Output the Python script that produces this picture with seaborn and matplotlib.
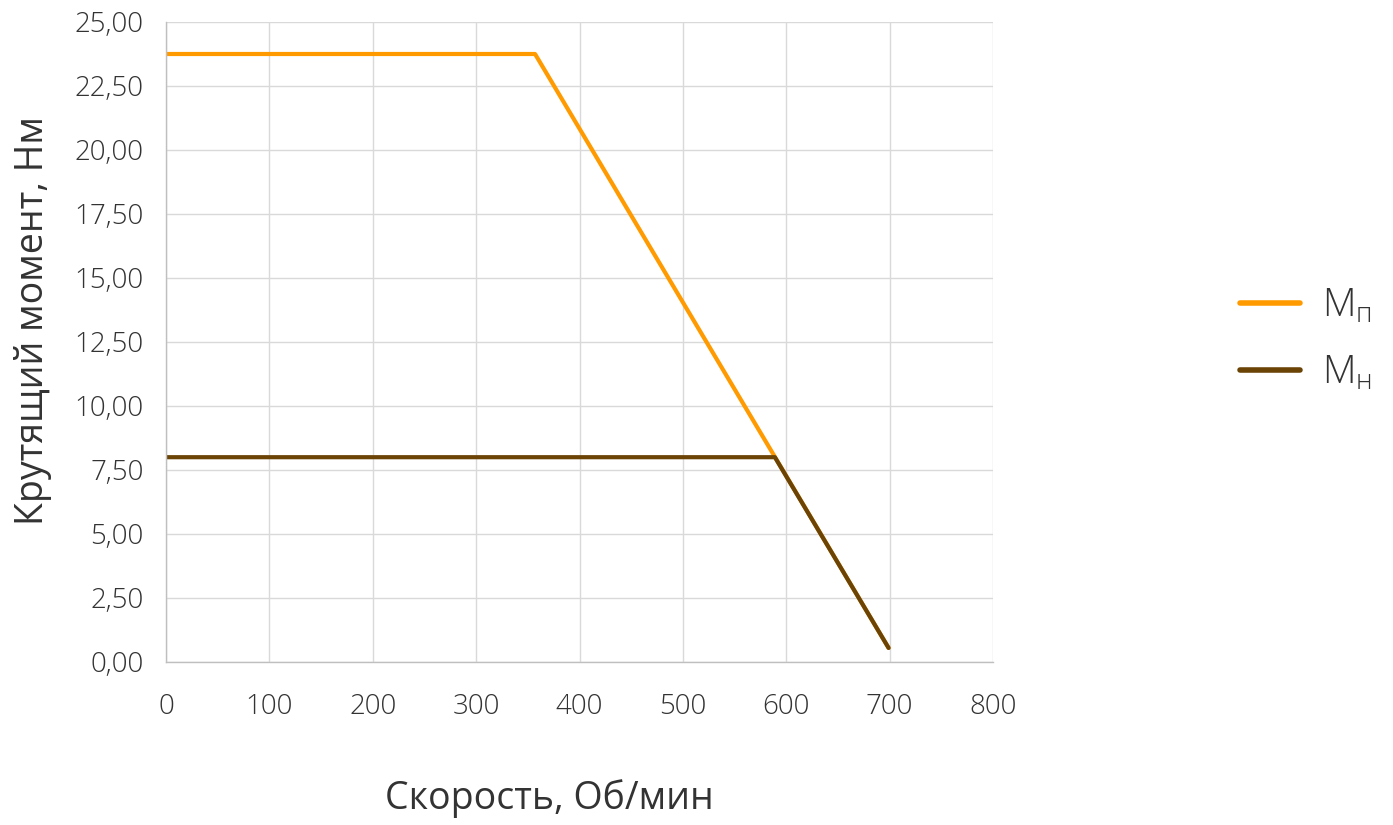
import matplotlib.pyplot as plt
import pandas as pd
import seaborn as sns

# Data
speed_p = [0, 357, 699]
torque_p = [23.75, 23.75, 0.55]
speed_n = [0, 589, 699]
torque_n = [8.0, 8.0, 0.55]
series_labels = [r'$\mathregular{M_{п}}$', r'$\mathregular{M_{н}}$']
x_ticks = [0, 100, 200, 300, 400, 500, 600, 700, 800]
y_ticks = [0, 2.5, 5, 7.5, 10, 12.5, 15, 17.5, 20, 22.5, 25]

df = pd.concat([
    pd.DataFrame({'speed': speed_p, 'torque': torque_p, 'series': series_labels[0]}),
    pd.DataFrame({'speed': speed_n, 'torque': torque_n, 'series': series_labels[1]}),
])

sns.set_style('white')
plt.rcParams['font.family'] = ['Open Sans', 'DejaVu Sans']
plt.rcParams['font.weight'] = 'light'
plt.rcParams['mathtext.fontset'] = 'custom'
plt.rcParams['mathtext.rm'] = 'Open Sans:light'

text_color = '#333333'
grid_color = '#d9d9d9'

fig = plt.figure(figsize=(13.93, 8.25), dpi=100)
ax = fig.add_axes([166 / 1393, 163 / 825, 827 / 1393, 640 / 825])

sns.lineplot(data=df, x='speed', y='torque', hue='series', sort=False,
             palette=['#FF9B00', '#6A4305'], linewidth=3, ax=ax, legend=False)

ax.set_xlim(0, 800)
ax.set_ylim(0, 25)
ax.set_xticks(x_ticks)
ax.set_yticks(y_ticks)
ax.set_xticklabels([str(t) for t in x_ticks])
ax.set_yticklabels([f'{t:.2f}'.replace('.', ',') for t in y_ticks])
ax.tick_params(axis='both', labelsize=20, colors=text_color, length=0)
ax.tick_params(axis='x', pad=22)
ax.tick_params(axis='y', pad=16)
ax.grid(True, color=grid_color, linewidth=1)
for s in ['top', 'right']:
    ax.spines[s].set_visible(False)
for s in ['left', 'bottom']:
    ax.spines[s].set_color('#bfbfbf')
    ax.spines[s].set_linewidth(1)

ax.set_xlabel('Скорость, Об/мин', fontsize=27, color=text_color)
ax.set_ylabel('Крутящий момент, Нм', fontsize=27, color=text_color)
ax.xaxis.set_label_coords(0.463, -0.183)
ax.yaxis.set_label_coords(-0.138, 0.534)

handles = [plt.Line2D([], [], color=c, linewidth=4, solid_capstyle='round')
           for c in ['#FF9B00', '#6A4305']]
fig.legend(handles, series_labels, loc='center left', bbox_to_anchor=(1240 / 1393, 1 - 340 / 825),
           frameon=False, fontsize=28, labelcolor=text_color, handlelength=1.55,
           labelspacing=0.75, handletextpad=0.55, borderpad=0, borderaxespad=0)

fig.savefig('out.png', dpi=100)
